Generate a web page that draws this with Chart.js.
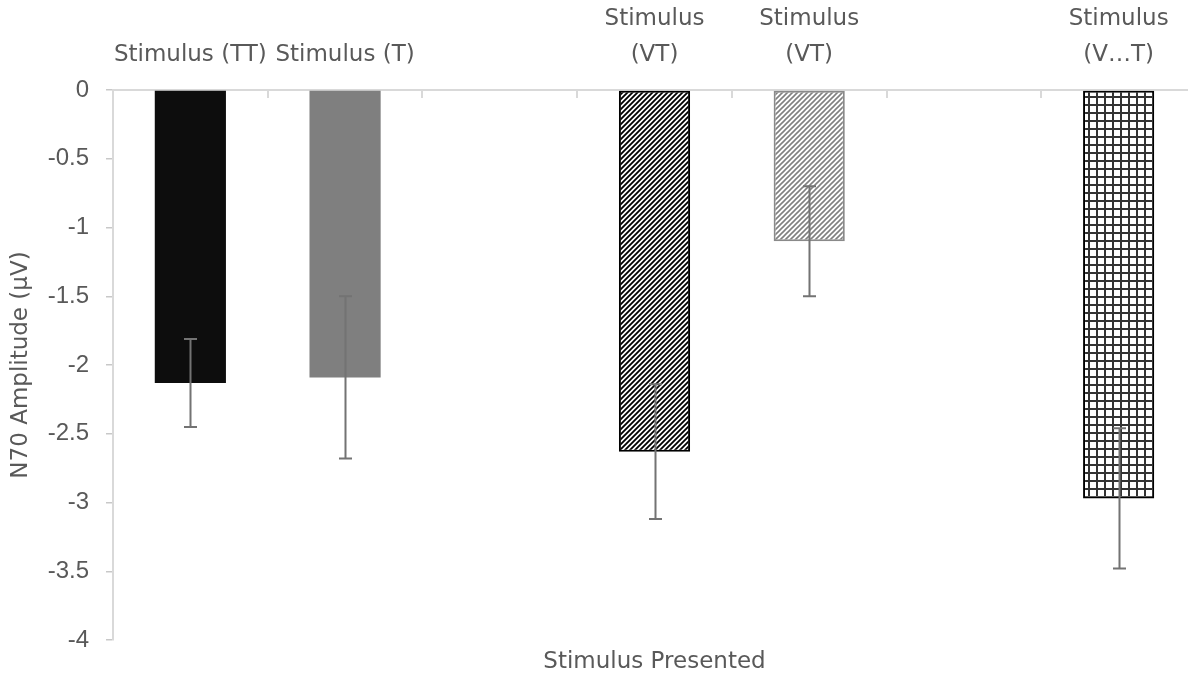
<!DOCTYPE html>
<html>
<head>
<meta charset="utf-8">
<script src="https://cdn.jsdelivr.net/npm/chart.js@4/dist/chart.umd.min.js"></script>
<style>
  html, body { margin: 0; padding: 0; background: #ffffff; overflow: hidden; }
  #wrap { position: relative; width: 1196px; height: 676px; }
</style>
</head>
<body>
<div id="wrap"><canvas id="c"></canvas></div>
<script>
// ---- data ----
const categories = ['Stimulus (TT)', 'Stimulus (T)', '', ['Stimulus', '(VT)'], ['Stimulus', '(VT)'], '', ['Stimulus', '(V…T)']];
const values = [-2.13, -2.09, null, -2.63, -1.10, null, -2.97];
const errors = [0.32, 0.59, null, 0.49, 0.40, null, 0.51];
const yTicks = [0, -0.5, -1, -1.5, -2, -2.5, -3, -3.5, -4];
const yTitle = 'N70 Amplitude (μV)';
const xTitle = 'Stimulus Presented';

// ---- patterns ----
function diagPattern(fg, bg, size, lw) {
  const c = document.createElement('canvas');
  c.width = size; c.height = size;
  const g = c.getContext('2d');
  g.fillStyle = bg; g.fillRect(0, 0, size, size);
  g.strokeStyle = fg; g.lineWidth = lw; g.lineCap = 'square';
  g.beginPath();
  g.moveTo(0, size); g.lineTo(size, 0);
  g.moveTo(-size, size); g.lineTo(size, -size);
  g.moveTo(0, 2 * size); g.lineTo(2 * size, 0);
  g.stroke();
  return g.createPattern(c, 'repeat');
}
function gridPattern(fg, bg, size, lw) {
  const c = document.createElement('canvas');
  c.width = size; c.height = size;
  const g = c.getContext('2d');
  g.fillStyle = bg; g.fillRect(0, 0, size, size);
  g.fillStyle = fg;
  g.fillRect(0, 0, lw, size);
  g.fillRect(0, 0, size, lw);
  return g.createPattern(c, 'repeat');
}
const fills = ['#0d0d0d', '#7f7f7f', 'rgba(0,0,0,0)',
  diagPattern('#000000', '#ffffff', 5, 1.8),
  diagPattern('#808080', '#ffffff', 5, 1.6),
  'rgba(0,0,0,0)',
  gridPattern('#333333', '#ffffff', 8, 2)];
const borders = ['#0d0d0d', '#7f7f7f', 'rgba(0,0,0,0)', '#000000', '#8a8a8a', 'rgba(0,0,0,0)', '#000000'];
const borderWidths = [0, 0, 0, 2, 2, 0, 2];

const labelColor = '#595959';
const axisColor = '#d9d9d9';

const errorBars = {
  id: 'errorBars',
  afterDatasetsDraw(chart) {
    const meta = chart.getDatasetMeta(0);
    const y = chart.scales.y;
    const ctx = chart.ctx;
    ctx.save();
    ctx.strokeStyle = '#737373';
    ctx.lineWidth = 2;
    meta.data.forEach((bar, i) => {
      const v = values[i], e = errors[i];
      if (v === null || e === null) return;
      const x = Math.round(bar.x) + 0.5;
      const y1 = y.getPixelForValue(v + e);
      const y2 = y.getPixelForValue(v - e);
      ctx.beginPath();
      ctx.moveTo(x, y1); ctx.lineTo(x, y2);
      ctx.moveTo(x - 6.5, y1); ctx.lineTo(x + 6.5, y1);
      ctx.moveTo(x - 6.5, y2); ctx.lineTo(x + 6.5, y2);
      ctx.stroke();
    });
    ctx.restore();
  }
};

const innerTicks = {
  id: 'innerTicks',
  afterDraw(chart) {
    const xs = chart.scales.x;
    const ctx = chart.ctx;
    const top = chart.chartArea.top;
    ctx.save();
    ctx.strokeStyle = axisColor;
    ctx.lineWidth = 2;
    for (let i = 1; i <= categories.length; i++) {
      const px = Math.round(xs.getPixelForValue(i - 0.5));
      ctx.beginPath();
      ctx.moveTo(px, top);
      ctx.lineTo(px, top + 8);
      ctx.stroke();
    }
    ctx.restore();
  }
};

new Chart(document.getElementById('c'), {
  type: 'bar',
  data: {
    labels: categories,
    datasets: [{
      data: values,
      backgroundColor: fills,
      borderColor: borders,
      borderWidth: borderWidths,
      borderSkipped: false,
      categoryPercentage: 1,
      barPercentage: 0.46
    }]
  },
  options: {
    responsive: true,
    maintainAspectRatio: false,
    animation: false,
    layout: { padding: 0 },
    plugins: { legend: { display: false }, tooltip: { enabled: false } },
    scales: {
      x: {
        type: 'category',
        position: 'top',
        offset: true,
        grid: { display: true, drawOnChartArea: false, drawTicks: false },
        border: { display: true, color: axisColor, width: 2 },
        ticks: {
          autoSkip: false,
          maxRotation: 0,
          minRotation: 0,
          padding: 17,
          color: labelColor,
          font: { family: 'DejaVu Sans', size: 23, lineHeight: 1.55 }
        },
        afterFit(s) { s.height = 90; }
      },
      xb: {
        type: 'category',
        position: 'bottom',
        labels: categories,
        grid: { display: false },
        border: { display: false },
        ticks: { display: false },
        title: {
          display: true,
          text: xTitle,
          color: labelColor,
          font: { family: 'DejaVu Sans', size: 23, lineHeight: 1.2 },
          padding: { top: 0, bottom: 0 }
        },
        afterFit(s) { s.height = 36; }
      },
      y: {
        min: -4,
        max: 0,
        afterBuildTicks(s) { s.ticks = yTicks.map(v => ({ value: v })); },
        grid: { display: true, drawOnChartArea: false, drawTicks: true, tickLength: 7, color: '#c8c8c8', lineWidth: 1.5 },
        border: { display: true, color: axisColor, width: 2 },
        ticks: {
          padding: 17,
          color: labelColor,
          font: { family: 'Liberation Sans', size: 24 },
          callback: v => String(v)
        },
        title: {
          display: true,
          text: yTitle,
          color: labelColor,
          font: { family: 'DejaVu Sans', size: 23, lineHeight: 1.2 },
          padding: { top: 7, bottom: 0 }
        },
        afterFit(s) { s.width = 113; }
      }
    }
  },
  plugins: [errorBars, innerTicks]
});
</script>
</body>
</html>
